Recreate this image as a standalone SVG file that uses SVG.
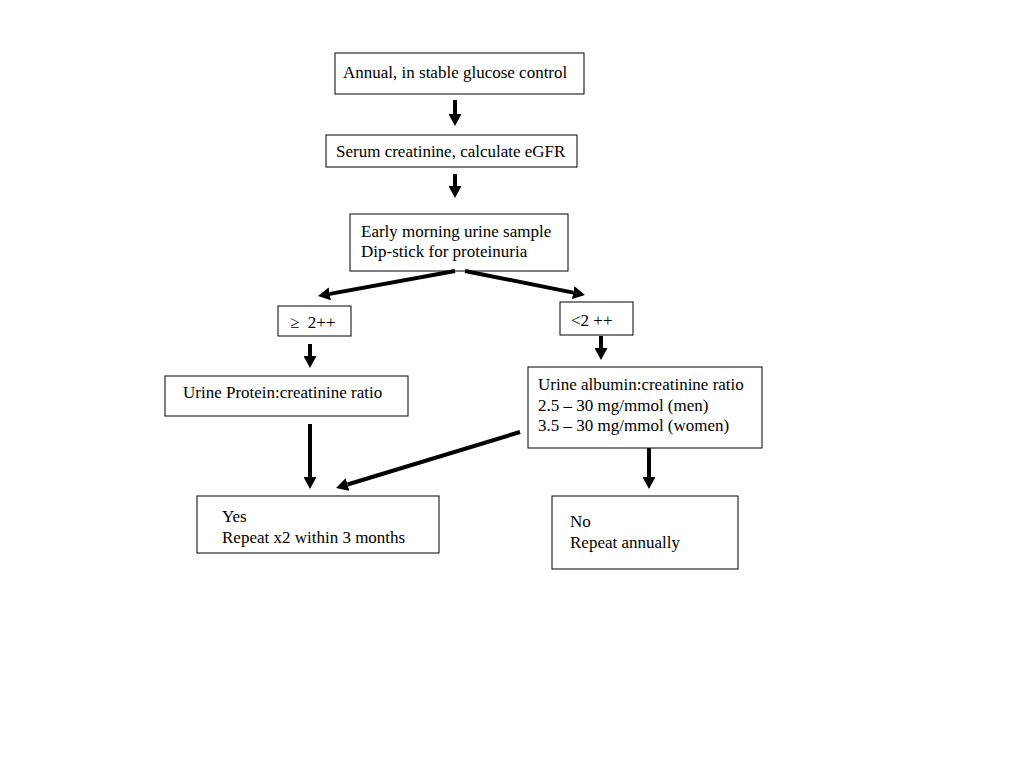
<svg xmlns="http://www.w3.org/2000/svg" width="1024" height="768" viewBox="0 0 1024 768">
<style>
.box{fill:#fff;stroke:#000;stroke-width:1}
.t{font-family:"Liberation Serif","Times New Roman",serif;font-size:17px;fill:#000}
.c{stroke:#000;stroke-width:4;fill:none;marker-end:url(#ah)}
</style>
<defs>
<marker id="ah" markerUnits="userSpaceOnUse" markerWidth="12" markerHeight="13" viewBox="0 0 12 13" refX="0" refY="6.5" orient="auto">
<path d="M0,0 L12,6.5 L0,13 Z" fill="#000"/>
</marker>
</defs>
<rect width="1024" height="768" fill="#fff"/>
<g id="n1"><rect class="box" x="335" y="53" width="249" height="41"/><text class="t" x="343" y="78">Annual, in stable glucose control</text></g>
<g id="n2"><rect class="box" x="326" y="135" width="251" height="32"/><text class="t" x="336" y="157">Serum creatinine, calculate eGFR</text></g>
<g id="n3"><rect class="box" x="350" y="214" width="218" height="57"/><text class="t" x="361" y="237">Early morning urine sample</text><text class="t" x="361" y="257">Dip-stick for proteinuria</text></g>
<g id="n4"><rect class="box" x="278" y="306" width="73" height="30"/><text class="t" x="290" y="328" xml:space="preserve">≥  2++</text></g>
<g id="n5"><rect class="box" x="560" y="302" width="73" height="33"/><text class="t" x="571" y="326">&lt;2 ++</text></g>
<g id="n6"><rect class="box" x="165" y="376" width="243" height="40"/><text class="t" x="183" y="398">Urine Protein:creatinine ratio</text></g>
<g id="n7"><rect class="box" x="528" y="367" width="234" height="81"/><text class="t" x="538" y="390">Urine albumin:creatinine ratio</text><text class="t" x="538" y="411">2.5 – 30 mg/mmol (men)</text><text class="t" x="538" y="431">3.5 – 30 mg/mmol (women)</text></g>
<g id="n8"><rect class="box" x="197" y="496" width="242" height="57"/><text class="t" x="222" y="522">Yes</text><text class="t" x="222" y="543">Repeat x2 within 3 months</text></g>
<g id="n9"><rect class="box" x="552" y="496" width="186" height="73"/><text class="t" x="570" y="527">No</text><text class="t" x="570" y="548">Repeat annually</text></g>
<g id="connectors">
<line class="c" x1="455" y1="100" x2="455" y2="114"/>
<line class="c" x1="455" y1="174" x2="455" y2="186"/>
<line class="c" x1="455" y1="271" x2="329.8" y2="293.85"/>
<line class="c" x1="465" y1="271" x2="573.2" y2="292.6"/>
<line class="c" x1="310" y1="344" x2="310" y2="356"/>
<line class="c" x1="601" y1="336" x2="601" y2="348"/>
<line class="c" x1="310" y1="424" x2="310" y2="477"/>
<line class="c" x1="520" y1="432" x2="347.5" y2="484.5"/>
<line class="c" x1="649" y1="448" x2="649" y2="477"/>
</g>
</svg>
